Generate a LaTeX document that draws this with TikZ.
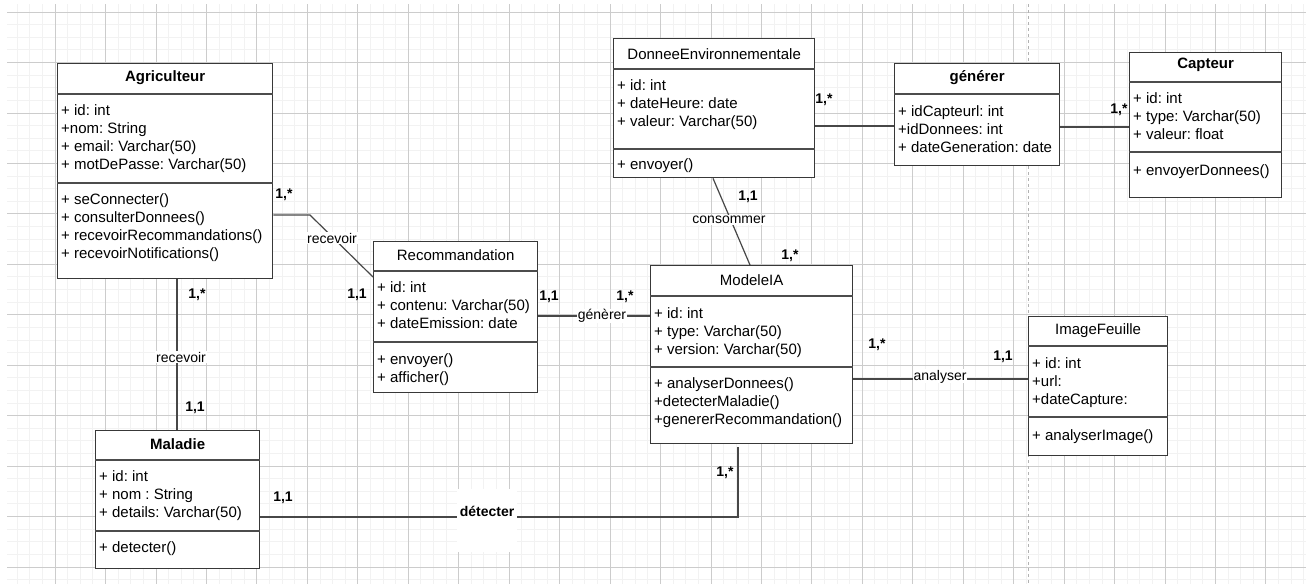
\documentclass[tikz,border=0pt]{standalone}
\usepackage{fontspec}
\setmainfont{Liberation Sans}
\frenchspacing
\begin{document}
\begin{tikzpicture}[x=1pt,y=-1pt,
  classbox/.style={draw=black!78, line width=1.3pt, fill=white, anchor=north west, inner sep=0pt},
  sepline/.style={draw=black!70, line width=1.1pt},
  ctitle/.style={inner sep=0pt, font=\fontsize{15}{18}\selectfont},
  members/.style={anchor=north west, inner sep=0pt, align=left, font=\fontsize{15}{18.3}\selectfont},
  link/.style={draw=black!72, line width=1.2pt},
  lbl/.style={fill=white, inner sep=1pt, font=\fontsize{14}{16}\selectfont},
  mult/.style={inner sep=0pt, font=\bfseries\fontsize{14}{16}\selectfont},
  minorgrid/.style={draw=black!5, line width=0.8pt},
  majorgrid/.style={draw=black!20, line width=0.8pt}
]
\useasboundingbox (0,0) rectangle (1306,584);
\fill[white] (0,0) rectangle (1306,584);

% grid
\begin{scope}
  \clip (7,4) rectangle (1306,584);
  \foreach \i in {0,...,104} {
    \draw[minorgrid] ({4.6+12.6125*\i},0) -- ({4.6+12.6125*\i},584);
  }
  \foreach \i in {0,...,47} {
    \draw[minorgrid] (0,{12-12.6125+12.6125*\i}) -- (1306,{12-12.6125+12.6125*\i});
  }
  \foreach \i in {0,...,26} {
    \draw[majorgrid] ({4.6+50.45*\i},0) -- ({4.6+50.45*\i},584);
  }
  \foreach \i in {0,...,11} {
    \draw[majorgrid] (0,{12+50.45*\i}) -- (1306,{12+50.45*\i});
  }
\end{scope}
\draw[black!30, dashed, line width=0.9pt] (1028,4) -- (1028,584);

% classes
\node[classbox, minimum width=215, minimum height=215] (agri) at (57,63) {};
\draw[sepline] (agri.west |- 0,94) -- (agri.east |- 0,94);
\draw[sepline] (agri.west |- 0,183) -- (agri.east |- 0,183);
\node[ctitle, font=\bfseries\fontsize{15}{18}\selectfont] (agriT) at (agri.north |- 0,78) {Agriculteur};
\node[members] (agriA) at (61,104) {+ id: int\\+nom: String\\+ email: Varchar(50)\\+ motDePasse: Varchar(50)};
\node[members] (agriM) at (61,193) {+ seConnecter()\\+ consulterDonnees()\\+ recevoirRecommandations()\\+ recevoirNotifications()};

\node[classbox, minimum width=164, minimum height=151] (reco) at (373,241) {};
\draw[sepline] (reco.west |- 0,271) -- (reco.east |- 0,271);
\draw[sepline] (reco.west |- 0,342) -- (reco.east |- 0,342);
\node[ctitle] (recoT) at (reco.north |- 0,255) {Recommandation};
\node[members] (recoA) at (377,281) {+ id: int\\+ contenu: Varchar(50)\\+ dateEmission: date};
\node[members] (recoM) at (377,353) {+ envoyer()\\+ afficher()};

\node[classbox, minimum width=201, minimum height=139] (donnee) at (613,38) {};
\draw[sepline] (donnee.west |- 0,69) -- (donnee.east |- 0,69);
\draw[sepline] (donnee.west |- 0,149) -- (donnee.east |- 0,149);
\node[ctitle] (donneeT) at (donnee.north |- 0,54) {DonneeEnvironnementale};
\node[members] (donneeA) at (617,79) {+ id: int\\+ dateHeure: date\\+ valeur: Varchar(50)};
\node[members] (donneeM) at (617,158) {+ envoyer()};

\node[classbox, minimum width=165, minimum height=102] (gen) at (894,63) {};
\draw[sepline] (gen.west |- 0,94) -- (gen.east |- 0,94);
\node[ctitle, font=\bfseries\fontsize{15}{18}\selectfont] (genT) at (gen.north |- 0,78) {générer};
\node[members] (genA) at (898,105) {+ idCapteurl: int\\+idDonnees: int\\+ dateGeneration: date};

\node[classbox, minimum width=152, minimum height=145] (capt) at (1129,52) {};
\draw[sepline] (capt.west |- 0,82) -- (capt.east |- 0,82);
\draw[sepline] (capt.west |- 0,152) -- (capt.east |- 0,152);
\node[ctitle, font=\bfseries\fontsize{15}{18}\selectfont] (captT) at (capt.north |- 0,65) {Capteur};
\node[members] (captA) at (1133,92) {+ id: int\\+ type: Varchar(50)\\+ valeur: float};
\node[members] (captM) at (1133,164) {+ envoyerDonnees()};

\node[classbox, minimum width=202, minimum height=178] (modele) at (650,265) {};
\draw[sepline] (modele.west |- 0,296) -- (modele.east |- 0,296);
\draw[sepline] (modele.west |- 0,367) -- (modele.east |- 0,367);
\node[ctitle] (modeleT) at (modele.north |- 0,280) {ModeleIA};
\node[members] (modeleA) at (654,307) {+ id: int\\+ type: Varchar(50)\\+ version: Varchar(50)};
\node[members] (modeleM) at (654,377) {+ analyserDonnees()\\+detecterMaladie()\\+genererRecommandation()};

\node[classbox, minimum width=139, minimum height=139] (img) at (1028,316) {};
\draw[sepline] (img.west |- 0,346) -- (img.east |- 0,346);
\draw[sepline] (img.west |- 0,417) -- (img.east |- 0,417);
\node[ctitle] (imgT) at (img.north |- 0,331) {ImageFeuille};
\node[members] (imgA) at (1032,357) {+ id: int\\+url:\\+dateCapture:};
\node[members] (imgM) at (1032,429) {+ analyserImage()};

\node[classbox, minimum width=164, minimum height=138] (mal) at (95,430) {};
\draw[sepline] (mal.west |- 0,460) -- (mal.east |- 0,460);
\draw[sepline] (mal.west |- 0,531) -- (mal.east |- 0,531);
\node[ctitle, font=\bfseries\fontsize{15}{18}\selectfont] (malT) at (mal.north |- 0,444) {Maladie};
\node[members] (malA) at (99,470) {+ id: int\\+ nom : String\\+ details: Varchar(50)};
\node[members] (malM) at (99,541) {+ detecter()};

% associations
\coordinate (recBend) at (310,215);
\draw[link] (agri.east |- 0,215) -- (recBend) -- (reco.west |- 0,277);
\node[lbl] (recL) at (332,238) {recevoir};
\draw[link] (177,0 |- agri.south) -- (177,0 |- mal.north);
\node[lbl] (recL2) at (181,357) {recevoir};
\draw[link] (reco.east |- 0,316) -- (modele.west |- 0,316);
\node[lbl, inner sep=0.5pt] (genL) at (602,316) {génèrer};
\draw[link] (713,0 |- donnee.south) -- (750,0 |- modele.north);
\node[lbl] (conL) at (729,220) {consommer};
\draw[link] (donnee.east |- 0,126) -- (gen.west |- 0,126);
\draw[link] (gen.east |- 0,127) -- (capt.west |- 0,127);
\draw[link] (modele.east |- 0,379) -- (img.west |- 0,379);
\node[lbl, anchor=base, inner sep=0.5pt] (anaL) at (940,380) {analyser};
\coordinate (detBend) at (738,517);
\draw[link] (738,447) -- (detBend) -- (mal.east |- 0,517);
\node[lbl, anchor=base, inner xsep=3pt, inner ysep=0pt, text height=27pt, text depth=36pt,
  font=\bfseries\fontsize{14}{16}\selectfont] (detL) at (487,516) {détecter};

% multiplicities
\node[mult] at (284,195) {1,*};
\node[mult] at (357,295) {1,1};
\node[mult] at (197,295) {1,*};
\node[mult] at (195,408) {1,1};
\node[mult] at (549,297) {1,1};
\node[mult] at (625,297) {1,*};
\node[mult] at (748,197) {1,1};
\node[mult] at (790,256) {1,*};
\node[mult] at (824,100) {1,*};
\node[mult] at (1119,110) {1,*};
\node[mult] at (877,345) {1,*};
\node[mult] at (1003,357) {1,1};
\node[mult] at (283,498) {1,1};
\node[mult] at (725,473) {1,*};
\end{tikzpicture}
\end{document}
